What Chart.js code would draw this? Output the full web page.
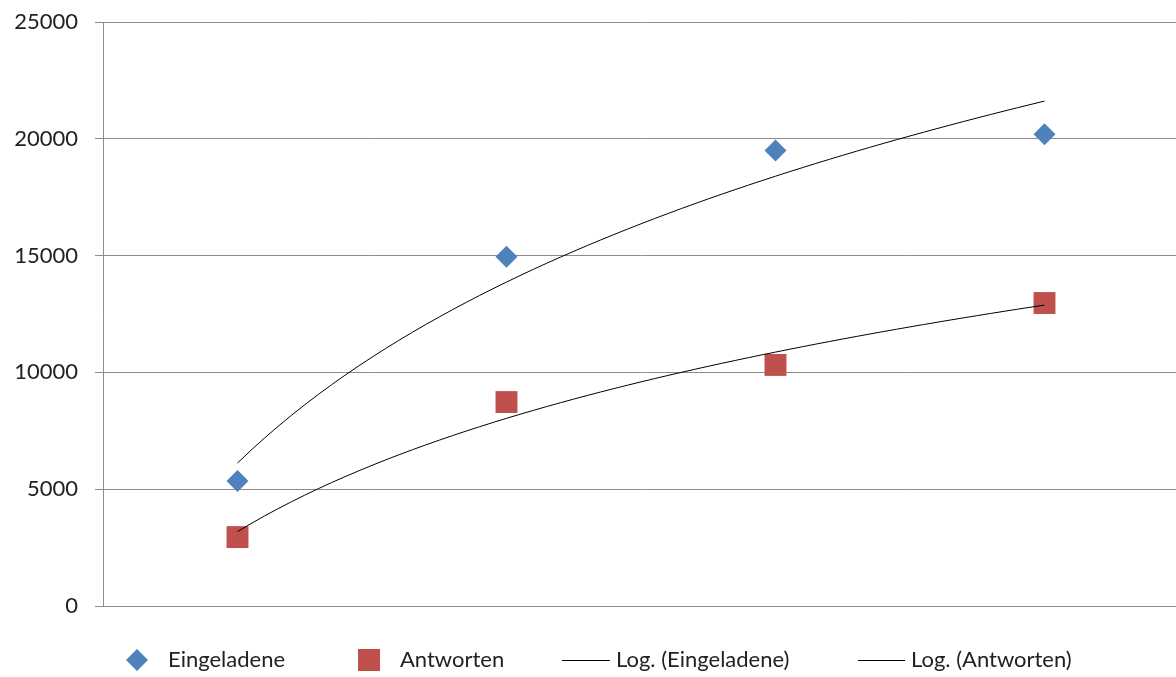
<!DOCTYPE html>
<html>
<head>
<meta charset="utf-8">
<script src="https://cdn.jsdelivr.net/npm/chart.js@4.4.1/dist/chart.umd.min.js"></script>
<style>
  html, body { margin: 0; padding: 0; overflow: hidden; background: #fff; }
  canvas { display: block; }
</style>
</head>
<body>
<canvas id="grafico" width="1180" height="677"></canvas>
<script>
// Daten
const kategorien = [1, 2, 3, 4];
const eingeladene = [5350, 14950, 19500, 20200];
const antworten = [2950, 8730, 10320, 12970];
const yTicks = [0, 5000, 10000, 15000, 20000, 25000];

const blau = '#4F81BD';
const rot = '#C0504D';
const gitter = '#8c8c8c';
const schrift = "Lato, 'Open Sans', sans-serif";

// logarithmische Trendlinie (wie Excel: y = a*ln(x) + b)
function logTrend(xs, ys) {
    const lx = xs.map(x => Math.log(x));
    const mx = lx.reduce((s, v) => s + v, 0) / lx.length;
    const my = ys.reduce((s, v) => s + v, 0) / ys.length;
    let sxy = 0, sxx = 0;
    for (let i = 0; i < lx.length; i++) {
        sxy += (lx[i] - mx) * (ys[i] - my);
        sxx += (lx[i] - mx) * (lx[i] - mx);
    }
    const a = sxy / sxx;
    const b = my - a * mx;
    const pts = [];
    for (let x = xs[0]; x <= xs[xs.length - 1] + 1e-9; x += 0.05) {
        pts.push({ x: x, y: a * Math.log(x) + b });
    }
    return pts;
}

const punkte = (werte) => kategorien.map((x, i) => ({ x: x, y: werte[i] }));

// Legende wie im Original, unten in einer Zeile
const legendePlugin = {
    id: 'legende',
    afterDraw(chart) {
        const ctx = chart.ctx;
        const y = 660;
        ctx.save();
        ctx.font = '22px ' + schrift;
        ctx.textBaseline = 'middle';

        // Raute
        ctx.fillStyle = blau;
        ctx.beginPath();
        ctx.moveTo(137, y - 11); ctx.lineTo(148, y); ctx.lineTo(137, y + 11); ctx.lineTo(126, y);
        ctx.closePath(); ctx.fill();
        ctx.fillStyle = '#222';
        ctx.fillText('Eingeladene', 168, y);

        // Quadrat
        ctx.fillStyle = rot;
        ctx.fillRect(358, y - 11, 22, 22);
        ctx.fillStyle = '#222';
        ctx.fillText('Antworten', 400, y);

        // Linien
        ctx.strokeStyle = '#000';
        ctx.lineWidth = 1;
        ctx.beginPath(); ctx.moveTo(562, y + 0.5); ctx.lineTo(610, y + 0.5); ctx.stroke();
        ctx.fillText('Log. (Eingeladene)', 616, y);
        ctx.beginPath(); ctx.moveTo(858, y + 0.5); ctx.lineTo(905, y + 0.5); ctx.stroke();
        ctx.fillText('Log. (Antworten)', 911, y);
        ctx.restore();
    }
};

new Chart(document.getElementById('grafico'), {
    type: 'scatter',
    data: {
        datasets: [
            {
                label: 'Eingeladene',
                data: punkte(eingeladene),
                backgroundColor: blau,
                borderColor: blau,
                pointStyle: 'rectRot',
                pointRadius: 11,
                pointBorderWidth: 0,
                order: 1,
            },
            {
                label: 'Antworten',
                data: punkte(antworten),
                backgroundColor: rot,
                borderColor: rot,
                pointStyle: 'rect',
                pointRadius: 15.5,
                pointBorderWidth: 0,
                order: 1,
            },
            {
                label: 'Log. (Eingeladene)',
                type: 'line',
                data: logTrend(kategorien, eingeladene),
                borderColor: '#000',
                borderWidth: 1,
                pointRadius: 0,
                fill: false,
                order: 0,
            },
            {
                label: 'Log. (Antworten)',
                type: 'line',
                data: logTrend(kategorien, antworten),
                borderColor: '#000',
                borderWidth: 1,
                pointRadius: 0,
                fill: false,
                order: 0,
            },
        ],
    },
    options: {
        responsive: false,
        animation: false,
        layout: { autoPadding: false, padding: { top: 22, right: 1, bottom: 71, left: 0 } },
        plugins: {
            legend: { display: false },
            tooltip: { enabled: false },
        },
        scales: {
            x: {
                type: 'linear',
                min: 0.5,
                max: 4.5,
                ticks: { display: false },
                grid: { display: false },
                border: { display: true, color: gitter, width: 1 },
                afterFit: (scale) => {
                    scale.height = 0;
                    scale.paddingLeft = 0;
                    scale.paddingRight = 0;
                },
            },
            y: {
                min: 0,
                max: 25000,
                afterBuildTicks: (scale) => { scale.ticks = yTicks.map(v => ({ value: v })); },
                ticks: {
                    padding: 17,
                    color: '#222',
                    font: { family: schrift, size: 22 },
                    callback: (v) => String(v),
                },
                grid: { color: gitter, tickLength: 8, lineWidth: 1 },
                border: { display: true, color: gitter, width: 1 },
                afterFit: (scale) => {
                    scale.width = 103;
                    scale.paddingTop = 0;
                    scale.paddingBottom = 0;
                },
            },
        },
    },
    plugins: [legendePlugin],
});
</script>
</body>
</html>
